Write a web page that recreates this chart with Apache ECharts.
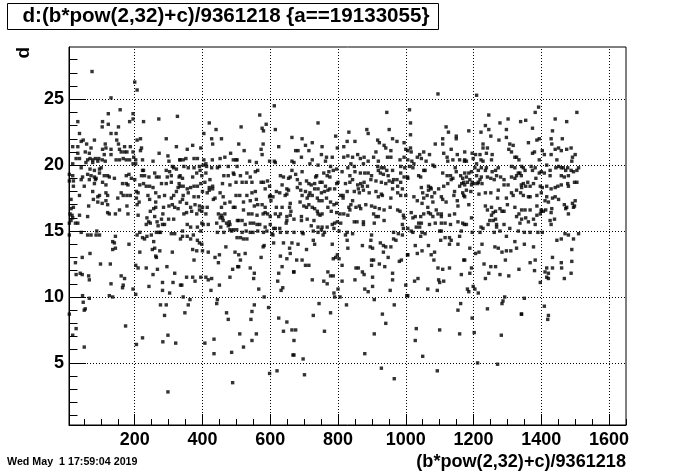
<!DOCTYPE html>
<html><head><meta charset="utf-8">
<script src="https://cdn.jsdelivr.net/npm/echarts@6/dist/echarts.min.js"></script>
<style>html,body{margin:0;padding:0;background:#fff}#c{width:696px;height:472px}</style>
</head><body><div id="c"></div>
<script>
// scatter values [x, d], grouped by x range
const pts_0_165 = [[74,27.1],[130,25.1],[122,23.9],[157,24.2],[32,23.3],[105,23.3],[122,23.1],[152,22.9],[104,22.9],[130,22.4],[37,22.4],[145,22.4],
[42,21.8],[48,21.9],[58,21.6],[81,21.9],[32,21.4],[17,21.4],[113,21.6],[115,21.3],[147,21.9],[152,21.6],
[71,21.3],[105,21.2],[130,21.2],[155,21.2],[160,21.0],[32,20.9],[54,21.0],[66,20.9],[110,20.8],[130,20.8],
[27,20.5],[37,20.5],[61,20.4],[68,20.5],[76,20.4],[84,20.5],[94,20.5],[104,20.4],[113,20.3],[145,20.4],[155,20.4],
[17,20.1],[56,20.2],[76,20.2],[91,20.3],
[42,19.8],[68,19.7],[81,19.6],[96,19.7],[101,19.8],[61,19.3],[7,19.3],
[17,19.2],[46,19.1],[71,19.2],[81,19.1],[86,19.0],[96,19.4],[110,19.2],[120,19.2],[125,19.1],[140,19.0],
[7,18.8],[19,18.8],[42,18.9],[66,18.9],[84,18.9],[105,18.7],
[19,18.4],[51,18.4],[81,18.6],[115,18.5],[164,18.6],
[37,17.7],[76,18.0],[160,17.9],[91,17.6],[96,17.7],[115,17.9],[120,17.7],[150,17.5],
[12,17.4],[78,17.4],[64,16.9],[91,17.2],[104,17.1],[115,17.3],[120,17.0],
[12,16.7],[19,16.8],[155,16.6],[120,16.4],[125,16.3],[143,16.3],
[9,16.3],[15,16.2],[17,16.0],[12,15.8],[37,16.2],[61,16.1],[32,15.6],[7,15.6],[25,15.6],
[42,14.9],[61,14.7],[71,14.7],[88,15.0],[96,14.7],[86,14.7],[143,14.6],[7,14.7],
[135,14.2],[140,14.1],[143,13.7],[135,13.6],
[68,13.3],[45,13.0],[25,12.6],[99,12.5],[128,12.5],
[27,11.7],[39,11.8],[45,11.7],[64,11.6],[66,11.3],[160,11.6],
[130,11.0],[164,10.7],
[46,10.1],[66,9.9],[125,10.1],[135,10.0],
[48,9.6],[54,9.1],[51,9.0],[7,8.7],
[27,7.6],[17,7.1],[51,6.2]];

const pts_165_335 = [[200,26.3],[207,25.7],
[195,23.9],[185,23.3],[195,23.5],[226,23.3],[271,23.5],[326,23.7],
[293,22.0],[207,21.9],[217,22.0],
[170,21.4],[187,21.4],[220,21.3],[217,21.1],[323,21.4],
[170,21.0],[177,21.0],[195,21.0],[272,20.9],[298,20.7],
[166,20.5],[175,20.4],[185,20.4],[197,20.6],[203,20.4],[223,20.4],[254,20.3],[311,19.9],[315,19.8],[323,19.7],[333,20.4],[301,20.3],
[195,20.1],[203,20.1],
[223,19.6],[226,19.6],[259,19.4],[293,19.6],[303,19.5],[220,19.2],[229,19.2],[242,19.1],[264,19.1],[272,19.1],[296,19.1],[308,19.2],[331,19.1],
[175,19.2],[183,19.3],[190,19.0],[175,18.6],[180,18.5],
[200,18.9],[215,18.5],[226,18.6],[234,18.4],[244,18.4],[254,18.3],[279,18.6],[293,18.6],[308,18.7],[331,18.6],[328,18.3],
[205,18.0],[166,17.7],[177,17.7],[187,17.7],[210,17.9],[239,17.7],[262,17.9],[272,17.6],[288,17.7],[308,17.5],[315,17.7],[323,18.0],
[205,17.5],[213,17.2],[244,17.4],[262,17.2],[177,16.9],[207,17.0],[256,16.7],[262,16.8],[285,16.8],[301,16.9],[311,17.0],[318,16.8],[328,16.7],
[180,16.3],[210,16.2],[246,16.5],[259,16.1],[283,16.3],[300,15.9],[315,15.9],[279,15.9],[288,15.5],[282,15.5],
[236,16.0],[241,15.7],[234,15.5],[246,15.6],[266,15.7],[269,15.4],
[215,14.9],[264,14.9],[272,14.9],[276,14.9],[308,14.8],[318,14.8],[335,14.4],
[207,14.7],[223,14.5],[229,14.4],[236,14.6],[249,14.7],[256,14.2],
[183,14.0],[215,13.4],[252,13.6],[259,13.7],[274,13.5],[311,13.4],[262,13.1],[264,13.0],
[203,12.4],[210,12.2],[234,12.2],[267,12.1],[295,12.3],[170,11.4],[254,11.7],[318,11.8],
[166,10.9],[195,10.6],[203,10.2],[242,10.8],[282,11.1],[313,11.1],[335,10.9],[282,10.5],[303,10.3],
[276,9.4],[293,9.4],[288,8.6],
[173,7.8],[223,6.9],[205,6.4],[283,6.6],[298,7.1],[321,6.5],
[298,2.8]];

const pts_335_505 = [[420,23.2],[440,22.7],[404,22.4],[427,22.0],[456,22.0],[430,21.6],[395,21.3],[371,21.5],[355,21.2],
[334,20.4],[343,20.4],[351,20.5],[375,20.5],[385,20.5],[404,20.4],[410,20.1],[429,20.4],[452,20.5],[466,20.6],[483,20.9],[491,20.4],[499,20.4],
[345,19.9],[358,19.8],[375,19.8],[391,19.9],[402,20.0],[412,19.9],[427,19.8],[444,19.8],[450,19.9],[476,19.9],[491,19.4],
[334,19.2],[341,19.0],[371,19.1],[383,19.4],[393,19.6],[398,19.2],[410,19.4],[422,18.9],[463,19.2],[476,19.2],[493,19.3],
[334,18.4],[343,18.4],[355,18.2],[365,18.3],[375,18.4],[385,18.4],[395,18.6],[407,18.7],[420,18.3],[430,18.4],[420,18.1],[430,18.2],[459,18.6],[481,18.5],[499,18.7],
[343,17.7],[358,17.9],[375,17.6],[388,17.6],[400,18.0],[414,17.9],[432,17.4],[437,17.5],[452,17.9],[499,17.7],
[341,17.4],[334,17.2],[353,17.1],[365,16.8],[378,17.0],[391,16.9],[400,16.8],[414,16.8],[456,16.8],[466,17.1],[481,17.2],[491,16.8],[496,16.8],[461,17.6],
[345,16.3],[353,16.4],[368,16.5],[383,16.3],[391,16.6],[398,16.5],[410,16.3],[447,16.3],[456,16.2],[466,16.3],[452,16.0],[459,16.0],[461,15.8],[471,15.6],[479,15.7],[481,15.5],[503,15.8],
[355,15.5],[365,15.3],[385,15.3],[398,15.6],[402,15.5],[417,15.5],[442,15.6],[454,15.3],[476,15.4],[481,15.1],[491,15.1],[501,15.1],
[341,14.6],[355,14.6],[365,14.4],[373,14.7],[385,14.3],[391,14.1],[398,14.0],[341,15.0],[395,15.0],[444,14.9],[463,14.9],[486,15.0],
[371,13.6],[383,13.5],[400,13.5],[417,13.4],[437,13.0],[450,13.2],[469,13.8],[496,13.4],[447,12.6],
[375,12.8],[489,12.1],[504,12.3],
[353,11.5],[371,11.5],[378,11.2],[395,11.5],[410,11.5],[417,11.3],[427,11.4],[450,10.9],[481,11.5],[339,10.9],[425,10.5],
[343,10.0],[363,9.8],[358,9.4],[348,8.8],[444,9.8],[442,9.5],[471,8.8],[476,8.3],
[434,6.8],[407,6.5],[434,5.7],[486,5.8],
[489,3.5]];

const pts_505_670 = [[612,24.5],[569,23.8],[588,23.1],[576,22.8],[580,22.6],[514,22.9],[615,22.7],[664,22.1],[579,21.6],[507,21.6],[523,21.1],[573,21.2],[625,21.4],[576,20.8],
[502,20.4],[539,20.3],[559,20.2],[598,20.3],[612,20.3],[615,20.2],[664,20.3],
[512,19.2],[531,19.4],[541,19.1],[556,19.5],[563,19.6],[630,19.2],[639,19.1],[654,19.0],[659,19.1],[502,19.9],[664,19.6],
[517,18.7],[529,18.7],[546,18.7],[573,18.7],[580,18.7],[592,18.8],[598,18.4],[635,18.5],[649,18.2],[654,18.1],[644,17.7],
[510,17.7],[531,17.7],[546,17.9],[556,18.0],[585,18.2],[600,17.7],[608,17.6],[618,18.0],[628,17.9],[649,17.8],
[521,17.2],[541,17.3],[559,17.4],[563,17.0],[576,17.0],[585,16.8],[598,17.6],[602,17.3],[618,16.8],[635,16.8],[657,16.8],[659,17.1],
[521,16.6],[536,16.3],[546,16.3],[553,16.9],[561,16.2],[579,16.3],[585,16.4],[592,16.3],[600,16.1],[615,16.3],[625,16.1],[630,16.3],[649,16.1],[659,16.2],[661,16.5],
[507,15.8],[517,15.8],[526,15.5],[541,15.6],[551,15.6],[561,15.5],[569,15.5],[585,15.3],[600,15.5],[610,15.2],[615,15.2],[628,15.2],[647,15.6],[649,15.8],
[517,14.9],[529,15.0],[541,14.9],[549,14.9],[563,15.0],[580,14.9],[590,15.0],[605,14.8],[608,14.7],[630,14.9],[649,14.9],[502,14.5],[512,14.5],[521,14.4],[531,14.4],
[582,13.9],[579,13.8],[610,14.1],[639,14.1],[664,14.1],[657,13.7],[507,13.2],[526,13.3],[573,13.0],[630,13.1],[649,12.9],[659,13.3],
[512,12.8],[507,12.3],[541,12.2],[553,11.8],[551,11.4],[625,11.8],[635,12.3],[669,11.9],[566,10.6],[622,11.2],[637,10.7],[632,10.5],
[582,10.0],[553,9.4],[595,9.2],[546,8.9],[543,8.3],[625,8.4],[649,8.1],[664,7.5],[639,7.4],
[510,7.2],[559,7.2],[546,6.7],[521,6.2],[667,5.6],
[598,4.2],[620,4.4]];

const pts_670_835 = [[741,23.2],[793,22.2],[832,22.5],[827,21.8],[817,21.4],[694,22.0],[724,21.7],[704,21.5],[675,21.1],[682,21.1],[714,21.1],[753,21.4],[798,21.3],
[692,20.6],[724,20.4],[751,20.8],[766,20.6],[763,20.3],[783,20.6],[817,20.6],[829,20.7],[670,20.2],[717,20.1],[741,20.0],[778,19.9],
[796,19.7],[786,19.6],[773,19.5],[758,19.4],[737,19.2],[734,19.1],[768,19.2],[776,19.1],[812,19.5],[829,19.8],[835,19.2],[675,19.3],[694,19.5],
[680,18.9],[688,18.6],[707,18.8],[714,18.6],[721,18.5],[731,18.6],[747,18.7],[753,18.7],[763,18.4],[776,18.2],[796,18.6],[800,18.7],[822,18.6],[835,18.7],
[680,18.3],[690,18.1],[704,18.0],[717,17.9],[731,18.2],[741,18.2],[751,17.9],[760,18.0],[770,18.1],[790,18.2],[808,17.7],[815,17.7],[827,18.0],
[694,17.7],[709,17.5],[714,17.7],[724,17.7],[739,17.5],[744,17.3],[753,17.3],[766,17.5],[778,17.2],[788,17.0],[796,17.1],[815,17.5],[832,16.8],
[688,17.2],[699,16.9],[707,16.8],[714,17.0],[724,16.8],[731,16.7],[739,16.5],[741,16.3],[747,16.2],[753,16.3],[770,16.8],[780,16.5],[796,16.4],[806,16.3],[817,16.3],[835,16.6],[829,16.2],
[670,15.9],[692,16.1],[692,15.8],[709,15.9],[721,15.4],[729,15.8],[741,15.3],[753,15.3],[768,15.3],[783,15.5],[790,15.6],[798,15.7],[808,15.6],[788,15.2],
[670,14.9],[694,14.9],[697,14.8],[727,15.0],[741,14.9],[751,15.1],[756,14.7],[760,14.9],[803,15.0],[822,14.7],[827,14.9],[827,14.3],
[682,14.0],[707,13.6],[727,14.3],[731,14.0],[783,14.0],[829,13.7],[793,13.0],[798,13.2],[803,12.9],[786,12.9],[812,12.4],
[678,12.8],[694,12.8],[704,12.4],[714,12.4],[670,11.9],[770,11.9],[778,11.6],[786,11.6],[724,11.3],[758,11.2],[768,11.0],[812,11.2],[788,10.3],
[800,10.6],[806,10.0],[790,10.0],[744,9.5],[825,9.4],[778,8.8],[727,8.6],
[675,7.5],[760,7.4],[670,6.7],[670,5.6],[697,5.3],[701,4.1]];

const pts_835_1005 = [[944,24.0],[885,22.7],[889,22.4],[951,22.7],[850,21.8],[917,21.9],[922,21.7],[936,21.5],[941,21.3],[961,22.0],[974,21.8],[995,21.7],[1000,21.2],[956,21.1],[912,21.0],[858,20.8],[866,20.5],[877,20.6],[843,20.6],[905,20.6],[946,20.6],[956,20.6],[983,20.4],[995,20.6],[919,20.3],[889,20.3],
[838,20.1],[848,19.9],[875,20.1],[917,19.9],[928,19.8],[936,19.8],[944,19.6],[961,19.6],[985,19.9],[997,19.8],
[850,19.5],[866,19.4],[879,19.4],[889,19.4],[899,19.2],[919,19.6],[925,19.4],[934,19.3],[948,19.2],[964,18.9],[974,18.9],[985,19.4],[995,19.1],[1005,19.1],
[843,18.9],[858,18.5],[867,18.6],[877,18.7],[860,18.2],[872,18.4],[887,18.4],[897,18.9],[912,18.8],[928,18.7],[941,18.6],[951,18.8],[961,18.7],[976,18.4],[985,18.7],[990,18.2],[1000,17.7],
[848,18.0],[863,17.9],[875,18.1],[892,17.9],[912,18.0],[928,17.8],[919,17.6],[931,17.7],[956,17.5],[961,18.2],[976,17.9],[985,17.7],
[843,17.3],[838,17.0],[853,16.8],[863,16.9],[867,16.7],[882,17.0],[899,16.9],[909,16.8],[922,16.7],[936,16.6],[954,16.8],[976,16.6],[983,16.5],[993,16.2],[995,16.0],
[905,16.3],[912,16.1],[919,16.1],[936,15.8],[907,15.6],[848,15.7],[856,15.7],[875,15.7],[875,15.5],[990,15.5],[993,15.2],
[843,14.8],[899,14.7],[964,14.9],[978,14.8],[990,14.7],[964,14.4],[971,14.3],[897,14.3],[895,13.8],[902,13.7],[872,13.9],[925,14.1],[934,13.9],[941,13.8],[956,13.8],[934,13.4],[948,13.0],[987,12.8],[981,12.7],[1005,13.2],
[899,12.8],[905,12.8],[922,12.5],[938,12.3],[899,12.4],[853,12.2],[860,12.2],[872,11.9],[877,11.7],[850,11.3],[902,11.5],[961,11.8],[961,11.3],[1000,10.9],[1003,10.1],[879,10.6],[889,10.4],[902,10.8],[954,10.5],
[907,9.8],[966,9.4],[931,8.7],[941,8.0],[907,7.2],[879,5.7],[928,4.6],[966,3.8]];

const pts_1005_1175 = [[1095,25.4],[1011,24.2],[1014,23.2],[1014,22.3],[1119,22.9],[1126,22.5],[1109,22.0],[1149,22.0],[1149,22.2],[1087,21.6],[1109,21.6],[1014,21.3],[1006,21.1],[1016,21.0],[1041,20.8],[1053,21.0],[1070,20.8],[1034,20.6],[1046,20.5],[1060,20.3],[1112,20.9],[1122,20.6],[1124,20.3],[1134,21.2],[1139,20.4],[1152,20.8],[1159,20.4],[1173,20.3],[1080,20.0],[1085,19.9],[1006,20.4],[1018,20.3],[1024,20.1],
[1011,19.9],[1021,19.8],[1053,19.6],[1057,19.6],[1109,19.4],[1146,19.8],[1149,19.5],[1122,19.2],[1132,19.2],[1139,19.0],[1162,19.2],[1168,19.0],[1006,19.0],[1038,19.2],[1044,19.1],
[1046,18.3],[1067,18.4],[1073,18.3],[1075,18.2],[1067,18.1],[1097,18.2],[1112,18.4],[1124,18.6],[1134,18.9],[1159,18.4],[1165,18.6],[1171,18.7],[1144,18.0],[1168,17.9],
[1024,17.6],[1050,17.9],[1053,17.5],[1063,17.7],[1077,17.6],[1085,17.9],[1034,17.3],[1048,17.1],[1080,17.2],[1105,17.6],[1109,17.4],[1119,17.2],[1142,17.7],[1152,17.3],[1154,16.9],[1171,17.7],
[1016,16.4],[1028,16.1],[1044,16.1],[1053,16.3],[1065,16.8],[1067,16.4],[1073,16.3],[1080,16.1],[1090,16.6],[1095,16.3],[1105,16.3],[1105,16.1],[1129,16.2],[1144,16.3],[1021,16.0],
[1038,15.6],[1046,15.6],[1041,15.3],[1031,15.3],[1070,15.5],[1087,15.6],[1105,15.6],[1116,15.6],[1132,15.5],[1154,15.7],[1168,15.6],[1173,15.5],[1006,15.2],[1016,15.0],[1021,14.9],
[1048,14.9],[1057,14.8],[1044,14.6],[1100,15.0],[1105,15.0],[1103,14.3],[1116,14.5],[1129,14.5],[1134,14.3],[1159,14.6],[1164,15.0],[1154,14.0],[1129,14.0],
[1028,13.9],[1006,13.2],[1034,13.3],[1048,13.5],[1067,13.9],[1075,13.2],[1085,13.4],[1083,12.8],[1095,12.2],[1109,12.1],[1129,12.2],[1171,12.8],[1164,11.7],
[1026,11.2],[1036,11.4],[1065,10.6],[1093,10.5],[1097,11.3],[1112,11.2],[1100,11.1],[1006,10.1],
[1162,9.5],[1154,9.0],[1031,7.6],[1100,7.5],[1159,7.2],[1028,6.7],[1050,5.5],[1093,4.4]];

const pts_1175_1340 = [[1209,25.3],[1245,23.8],[1278,23.2],[1302,23.5],[1339,23.3],[1235,23.0],[1186,22.6],[1222,22.5],[1245,22.7],[1297,22.7],[1251,22.2],[1275,21.9],[1297,22.1],[1228,21.6],[1228,21.3],[1241,21.3],[1307,21.6],[1317,21.5],[1312,21.0],[1304,21.2],[1322,20.6],[1327,20.6],[1334,20.4],[1174,21.0],[1196,20.9],[1206,20.8],[1219,20.8],[1238,20.9],[1255,20.8],[1253,20.4],[1199,20.5],[1209,20.1],[1222,20.4],[1228,20.3],[1174,20.4],[1179,20.3],[1204,19.8],
[1214,19.6],[1223,19.8],[1235,19.6],[1238,19.8],[1255,19.5],[1265,19.6],[1273,19.8],[1322,19.8],[1332,19.4],[1312,19.9],[1341,19.2],[1174,19.4],[1186,19.4],[1194,19.5],
[1179,19.1],[1189,18.9],[1196,18.7],[1202,18.6],[1209,19.2],[1214,18.7],[1219,18.9],[1223,19.1],[1241,19.1],[1251,19.0],[1261,18.9],[1268,19.2],[1280,19.1],[1290,18.9],[1312,19.1],[1322,19.0],[1327,19.2],[1337,19.4],[1174,18.5],[1182,18.7],[1194,18.5],[1212,18.6],[1225,18.6],
[1179,18.1],[1192,18.0],[1216,17.8],[1235,17.9],[1251,17.9],[1273,18.1],[1290,18.5],[1302,18.5],[1312,17.9],[1317,17.7],[1327,18.1],[1341,18.5],[1174,17.6],[1186,17.0],[1271,17.5],[1297,17.5],[1339,17.9],
[1235,16.9],[1241,16.6],[1253,16.8],[1258,16.4],[1265,16.5],[1278,16.7],[1284,16.5],[1290,16.5],[1300,17.0],[1322,16.8],[1334,16.3],[1327,16.1],[1253,16.2],[1248,15.8],[1258,15.8],[1265,15.9],[1268,15.5],[1268,15.3],[1243,15.5],[1222,15.3],[1228,15.2],[1194,16.0],[1179,15.5],[1290,15.5],[1307,15.2],[1337,15.6],
[1196,14.9],[1219,14.9],[1261,14.9],[1278,15.0],[1332,15.0],[1297,14.6],[1322,14.2],[1225,14.0],[1189,13.7],[1216,13.4],[1206,13.3],[1263,13.8],[1273,13.7],[1284,13.4],[1297,13.5],[1310,13.5],[1327,13.7],[1294,12.8],[1174,12.8],
[1231,12.5],[1251,12.3],[1265,12.3],[1278,11.7],[1304,11.6],[1334,12.1],[1245,11.8],[1235,11.4],[1194,12.2],[1189,11.8],[1199,10.8],[1204,10.6],[1186,10.4],[1214,10.3],[1182,10.6],
[1292,10.0],[1287,9.7],[1284,9.5],[1241,9.1],[1341,8.7],[1196,8.4],[1202,7.3],[1282,7.1],[1212,5.0],[1271,4.9]];

const pts_1340_1510 = [[1392,24.4],[1382,24.0],[1505,24.0],[1441,23.5],[1475,23.3],[1354,23.4],[1433,22.6],[1374,22.8],[1394,22.0],[1387,21.9],[1362,21.7],[1429,22.0],[1462,22.0],[1441,21.2],[1451,21.3],[1459,21.1],[1475,21.2],[1488,21.3],[1374,20.9],[1380,21.0],[1403,21.1],[1409,20.8],[1394,20.4],[1431,21.6],[1429,20.8],[1500,20.8],[1492,20.6],[1446,20.4],[1490,20.3],
[1347,19.8],[1352,19.6],[1374,19.6],[1382,19.8],[1394,19.4],[1400,19.5],[1409,19.4],[1416,20.0],[1426,19.6],[1443,19.8],[1451,19.9],[1459,19.8],[1465,19.8],[1472,19.6],[1478,19.8],[1488,19.6],[1495,19.5],[1505,19.6],[1510,19.8],[1370,19.9],[1342,19.9],[1384,19.0],[1426,19.2],[1459,19.2],[1468,19.1],[1480,19.2],
[1347,18.6],[1354,18.4],[1360,18.7],[1367,18.4],[1377,18.6],[1397,18.4],[1403,18.3],[1416,18.4],[1429,18.2],[1441,18.3],[1449,18.4],[1459,18.5],[1478,18.6],[1480,18.4],[1498,18.7],[1505,18.7],[1342,18.3],
[1347,17.7],[1362,17.6],[1367,17.6],[1387,17.7],[1400,17.9],[1411,17.3],[1416,17.6],[1421,17.2],[1433,17.5],[1441,17.6],[1451,17.4],[1468,17.0],[1475,16.8],[1472,16.7],[1492,17.1],[1498,16.9],[1500,17.3],[1342,16.6],[1352,16.6],[1367,16.6],[1387,16.9],[1397,16.3],[1400,16.5],[1406,16.5],[1413,16.6],[1429,16.4],[1431,16.7],[1480,16.3],[1495,16.8],
[1354,16.0],[1362,15.7],[1377,15.9],[1387,16.2],[1382,15.5],[1400,16.6],[1426,15.8],[1439,15.9],[1429,15.5],[1342,15.9],
[1350,14.9],[1367,14.9],[1390,14.9],[1403,14.9],[1470,14.8],[1480,14.7],[1459,14.4],[1446,14.3],[1495,14.4],[1510,14.8],[1490,13.6],[1350,14.0],[1377,13.8],[1433,13.0],[1459,12.6],[1416,12.2],[1367,12.6],[1382,12.8],[1380,12.0],[1411,11.9],[1421,11.8],[1433,12.2],[1460,12.2],[1490,12.7],[1488,11.8],[1416,11.5],[1421,11.4],[1468,11.4],[1397,11.1],
[1350,9.9],[1342,8.7],[1409,9.3],[1421,8.6],[1419,8.3]];

const xTickLabels = [200, 400, 600, 800, 1000, 1200, 1400, 1600];
const yTickLabels = [5, 10, 15, 20, 25];
const xMinorTicks = [50,100,150,250,300,350,450,500,550,650,700,750,850,900,950,1050,1100,1150,1250,1300,1350,1450,1500,1550,1650];
const yMinorTicks = [1,2,3,4,6,7,8,9,11,12,13,14,16,17,18,19,21,22,23,24,26,27,28];
const titleText = 'd:(b*pow(2,32)+c)/9361218 {a==19133055}';
const xTitle = '(b*pow(2,32)+c)/9361218';
const yTitle = 'd';
const dateText = 'Wed May  1 17:59:04 2019';

const points = [].concat(pts_0_165, pts_165_335, pts_335_505, pts_505_670, pts_670_835, pts_835_1005, pts_1005_1175, pts_1175_1340, pts_1340_1510);

const FONT = '"Liberation Sans", Arial, Helvetica, sans-serif';
const X_MIN = 6, X_MAX = 1650, Y_MIN = 0.29, Y_MAX = 28.96;
const plain = v => String(v);

const chart = echarts.init(document.getElementById('c'), null, {renderer: 'canvas'});
const axisCommon = {type: 'value', splitLine: {show: false}, scale: false};
chart.setOption({
  animation: false,
  backgroundColor: '#fff',
  grid: {left: 69, top: 47, width: 557, height: 378, show: true, borderColor: '#000', borderWidth: 1, backgroundColor: 'transparent'},
  xAxis: [
    Object.assign({}, axisCommon, {min: X_MIN, max: X_MAX, position: 'bottom',
      axisLine: {show: true, onZero: false, lineStyle: {color: '#000', width: 1}},
      axisTick: {show: true, inside: true, length: 11, customValues: xTickLabels, lineStyle: {color: '#000', width: 1}},
      axisLabel: {show: true, customValues: xTickLabels, formatter: plain, color: '#000', fontSize: 18, fontWeight: 'bold', fontFamily: FONT, margin: 6}}),
    Object.assign({}, axisCommon, {min: X_MIN, max: X_MAX, position: 'bottom', offset: 0,
      axisLine: {show: false, onZero: false},
      axisTick: {show: true, inside: true, length: 6, customValues: xMinorTicks, lineStyle: {color: '#000', width: 1}},
      axisLabel: {show: false}})
  ],
  yAxis: [
    Object.assign({}, axisCommon, {min: Y_MIN, max: Y_MAX, position: 'left',
      axisLine: {show: true, onZero: false, lineStyle: {color: '#000', width: 1}},
      axisTick: {show: true, inside: true, length: 17, customValues: yTickLabels, lineStyle: {color: '#000', width: 1}},
      axisLabel: {show: true, customValues: yTickLabels, formatter: plain, color: '#000', fontSize: 18, fontWeight: 'bold', fontFamily: FONT, margin: 5}}),
    Object.assign({}, axisCommon, {min: Y_MIN, max: Y_MAX, position: 'left', offset: 0,
      axisLine: {show: false, onZero: false},
      axisTick: {show: true, inside: true, length: 8.5, customValues: yMinorTicks, lineStyle: {color: '#000', width: 1}},
      axisLabel: {show: false}})
  ],
  series: [{
    type: 'scatter', xAxisIndex: 0, yAxisIndex: 0, data: points,
    symbol: 'rect', symbolSize: 3.4, itemStyle: {color: '#000'}, silent: true,
    emphasis: {disabled: true}, clip: true,
    markLine: {
      silent: true, symbol: ['none', 'none'], label: {show: false}, animation: false,
      lineStyle: {color: '#000', width: 1, type: [1, 2]},
      emphasis: {disabled: true},
      data: xTickLabels.map(v => ({xAxis: v})).concat(yTickLabels.map(v => ({yAxis: v})))
    }
  }],
  graphic: [
    {type: 'rect', shape: {x: 7.5, y: 3.5, width: 431, height: 26}, style: {fill: '#fff', stroke: '#000', lineWidth: 1}, z: 100},
    {type: 'text', x: 226, y: 16.5, style: {text: titleText, fill: '#000', font: 'bold 20.6px ' + FONT, textAlign: 'center', textVerticalAlign: 'middle'}, z: 101},
    {type: 'text', x: 626, y: 462, style: {text: xTitle, fill: '#000', font: 'bold 18.1px ' + FONT, textAlign: 'right', textVerticalAlign: 'middle'}, z: 101},
    {type: 'text', x: 33, y: 47, rotation: Math.PI / 2, style: {text: yTitle, fill: '#000', font: 'bold 19px ' + FONT, textAlign: 'right', textVerticalAlign: 'bottom'}, z: 101},
    {type: 'text', x: 7, y: 462, style: {text: dateText, fill: '#000', font: 'bold 10.7px ' + FONT, textAlign: 'left', textVerticalAlign: 'middle'}, z: 101}
  ]
});
</script></body></html>
